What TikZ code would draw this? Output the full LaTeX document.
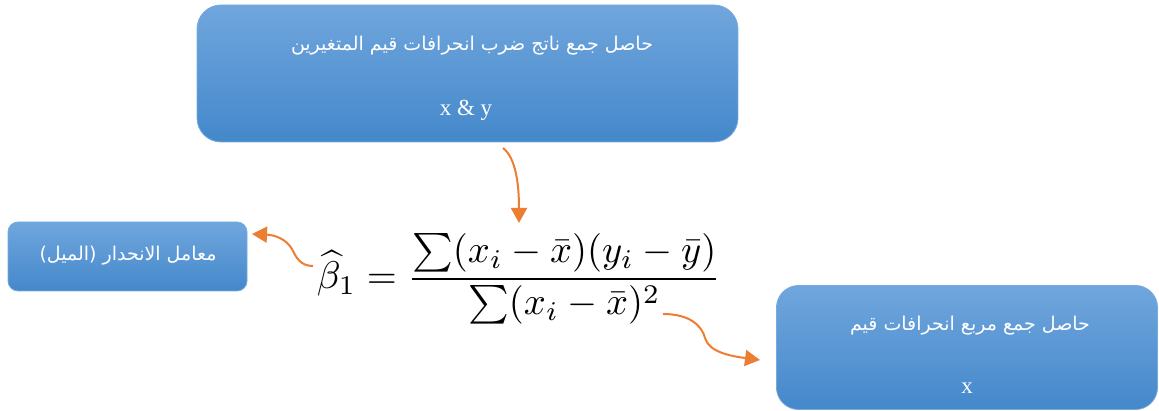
\documentclass[tikz,border=0pt]{standalone}
\usepackage{amsmath}
\usepackage{graphicx}
\usepackage{fontspec}
\newfontfamily\arabicfont[Script=Arabic]{DejaVu Sans}
\newfontfamily\latserif{Liberation Serif}
\TeXXeTstate=1
\usetikzlibrary{arrows.meta}
\definecolor{boxtop}{RGB}{112,166,221}
\definecolor{boxbot}{RGB}{68,136,203}
\definecolor{boxedge}{RGB}{120,170,222}
\definecolor{arr}{RGB}{237,125,49}
\tikzset{
  bluebox/.style={draw=boxedge, line width=0.8pt, top color=boxtop, bottom color=boxbot, inner sep=0pt},
  artext/.style={text=white, font=\arabicfont\fontsize{19}{22}\selectfont, inner sep=0pt},
  lattext/.style={text=white, font=\latserif\fontsize{23}{26}\selectfont, inner sep=0pt},
  orarrow/.style={draw=arr, line width=2pt, -{Triangle[length=15pt,width=16pt]}}
}
\begin{document}
\begin{tikzpicture}[x=1pt,y=-1pt]
\useasboundingbox (0,0) rectangle (1159,411);
% boxes
\node[bluebox, rounded corners=24pt, minimum width=541pt, minimum height=137pt] (top) at (467.5,73.5) {};
\node[bluebox, rounded corners=10pt, minimum width=239pt, minimum height=69pt] (left) at (127.5,256.5) {};
\node[bluebox, rounded corners=22pt, minimum width=381pt, minimum height=124pt] (right) at (967,347.5) {};
% texts
\node[artext] (topar) at (472,46) {\beginR حاصل جمع ناتج ضرب انحرافات قيم المتغيرين\endR};
\node[lattext] (topxy) at (466,110) {x \& y};
\node[artext] (leftar) at (128,256) {\beginR معامل الانحدار (الميل)\endR};
\node[artext] (rightar) at (970,326) {\beginR حاصل جمع مربع انحرافات قيم\endR};
\node[lattext] (rightx) at (967,388) {x};
% formula
\node[inner sep=0pt] (formula) at (519,279) {\resizebox{404pt}{!}{$\displaystyle \widehat{\beta}_1=\frac{\sum(x_i-\bar{x})(y_i-\bar{y})}{\sum(x_i-\bar{x})^2}$}};
% arrow anchor coordinates
\coordinate (a1s) at (503,148);
\coordinate (a1e) at (519,223);
\coordinate (a2s) at (313,266);
\coordinate (a2e) at (252,234);
\coordinate (a3s) at (663,314);
\coordinate (a3e) at (760,360);
% arrows
\draw[orarrow] (a1s) .. controls (516,158) and (519,185) .. (a1e);
\draw[orarrow] (a2s) .. controls (300,266) and (296,257) .. (292,249) .. controls (286,239) and (275,235) .. (a2e);
\draw[orarrow] (a3s) .. controls (690,314) and (702,326) .. (705,338) .. controls (709,352) and (730,356) .. (a3e);
\end{tikzpicture}
\end{document}
